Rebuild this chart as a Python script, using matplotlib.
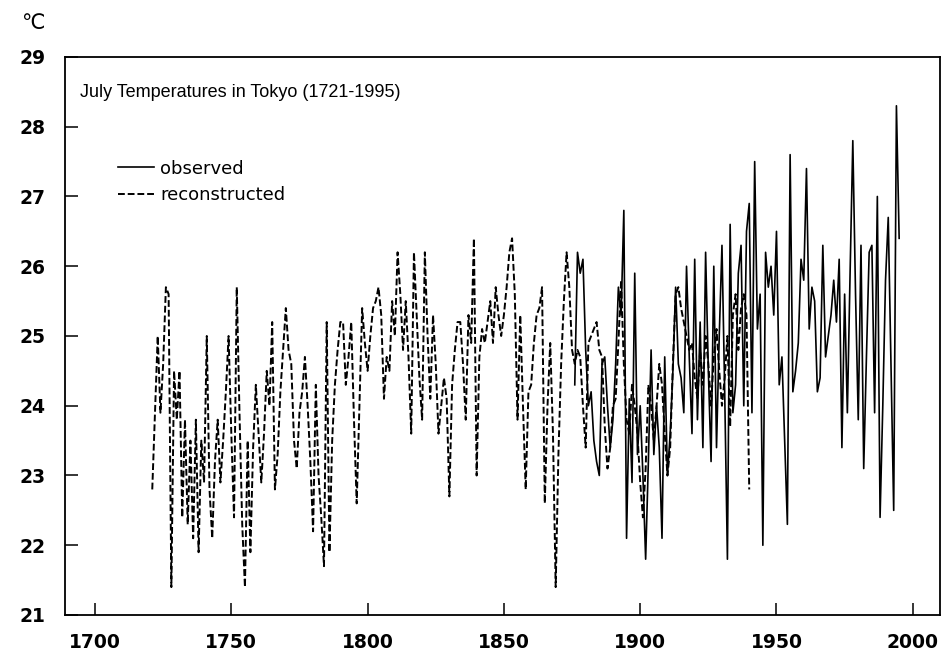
import numpy as np
import matplotlib.pyplot as plt

# reconstructed July means, 1721-1940
recon_start = 1721
recon_temp = [
    22.8, 23.9, 25.0, 23.9, 24.6, 25.7, 25.6, 21.4, 24.5, 23.8,   # 1721-1730
    24.5, 22.4, 23.8, 22.3, 23.5, 22.1, 23.8, 21.9, 23.5, 22.9,   # 1731-1740
    25.0, 22.8, 22.1, 23.2, 23.8, 22.9, 23.5, 24.2, 25.0, 23.6,   # 1741-1750
    22.4, 25.7, 23.9, 22.3, 21.4, 23.5, 21.9, 23.4, 24.3, 23.6,   # 1751-1760
    22.9, 23.6, 24.5, 24.0, 25.2, 22.8, 23.3, 24.2, 24.8, 25.4,   # 1761-1770
    24.8, 24.6, 23.5, 23.1, 23.9, 24.2, 24.7, 24.0, 23.2, 22.2,   # 1771-1780
    24.3, 23.0, 22.4, 21.7, 25.2, 21.9, 23.5, 24.3, 24.8, 25.2,   # 1781-1790
    25.2, 24.3, 24.7, 25.2, 23.8, 22.6, 24.0, 25.4, 24.9, 24.5,   # 1791-1800
    25.0, 25.4, 25.5, 25.7, 25.3, 24.1, 24.7, 24.5, 25.5, 25.0,   # 1801-1810
    26.2, 25.6, 24.8, 25.5, 24.7, 23.6, 26.2, 25.3, 24.4, 23.8,   # 1811-1820
    26.2, 25.0, 24.1, 25.3, 24.6, 23.6, 24.0, 24.4, 24.1, 22.7,   # 1821-1830
    24.3, 24.8, 25.2, 25.2, 24.6, 23.8, 25.3, 24.9, 26.4, 23.0,   # 1831-1840
    24.7, 25.1, 24.9, 25.2, 25.5, 24.9, 25.7, 25.3, 25.0, 25.3,   # 1841-1850
    25.7, 26.2, 26.4, 25.6, 23.8, 25.3, 24.0, 22.8, 24.2, 24.3,   # 1851-1860
    24.9, 25.3, 25.4, 25.7, 22.6, 24.0, 24.9, 23.6, 21.4, 23.3,   # 1861-1870
    24.6, 25.5, 26.2, 25.7, 24.8, 24.6, 24.8, 24.7, 24.0, 23.4,   # 1871-1880
    24.9, 25.0, 25.1, 25.2, 24.8, 24.7, 23.7, 23.1, 23.4, 24.0,   # 1881-1890
    24.1, 24.9, 25.8, 24.6, 23.8, 23.6, 24.3, 24.0, 23.6, 22.9,   # 1891-1900
    22.4, 23.1, 24.3, 24.0, 23.5, 24.0, 24.6, 24.3, 23.6, 23.0,   # 1901-1910
    23.4, 24.6, 25.6, 25.7, 25.4, 25.2, 25.0, 24.8, 24.9, 24.4,   # 1911-1920
    24.1, 24.8, 24.3, 25.0, 24.6, 24.0, 24.7, 25.1, 24.5, 24.0,   # 1921-1930
    24.4, 25.0, 23.7, 25.3, 25.6, 24.8, 25.4, 25.6, 25.3, 22.8,   # 1931-1940
]

# observed July means, 1876-1995
obs_start = 1876
obs_temp = [
    24.3, 26.2, 25.9, 26.1, 24.8, 24.0, 24.2, 23.5, 23.2, 23.0,   # 1876-1885
    24.6, 24.7, 24.0, 23.4, 23.8, 24.6, 25.7, 25.3, 26.8, 22.1,   # 1886-1895
    24.1, 22.9, 25.9, 23.3, 24.0, 23.0, 21.8, 23.2, 24.8, 23.3,   # 1896-1905
    24.0, 23.4, 22.1, 24.7, 23.0, 23.6, 24.5, 25.7, 24.6, 24.4,   # 1906-1915
    23.9, 26.0, 24.7, 23.6, 26.1, 23.8, 25.2, 23.4, 26.2, 24.5,   # 1916-1925
    23.2, 26.0, 23.4, 25.0, 26.3, 24.2, 21.8, 26.6, 23.9, 24.3,   # 1926-1935
    25.9, 26.3, 24.0, 26.5, 26.9, 23.9, 27.5, 25.1, 25.6, 22.0,   # 1936-1945
    26.2, 25.7, 26.0, 25.3, 26.5, 24.3, 24.7, 23.5, 22.3, 27.6,   # 1946-1955
    24.2, 24.5, 24.9, 26.1, 25.8, 27.4, 25.1, 25.7, 25.5, 24.2,   # 1956-1965
    24.4, 26.3, 24.7, 25.0, 25.3, 25.8, 25.2, 26.1, 23.4, 25.6,   # 1966-1975
    23.9, 25.9, 27.8, 25.6, 23.8, 26.3, 23.1, 24.7, 26.2, 26.3,   # 1976-1985
    23.9, 27.0, 22.4, 24.0, 25.8, 26.7, 24.6, 22.5, 28.3, 26.4,   # 1986-1995
]

recon_years = np.arange(recon_start, recon_start + len(recon_temp))
obs_years = np.arange(obs_start, obs_start + len(obs_temp))

x_ticks = [1700, 1750, 1800, 1850, 1900, 1950, 2000]
y_ticks = [21, 22, 23, 24, 25, 26, 27, 28, 29]

plt.rcParams['font.family'] = ['Liberation Sans', 'DejaVu Sans']

fig = plt.figure(figsize=(9.48, 6.65), dpi=100)
ax = fig.add_axes([0.0686, 0.0752, 0.9230, 0.8391])

ax.plot(obs_years, obs_temp, color='black', lw=1.2, label='observed')
ax.plot(recon_years, recon_temp, color='black', lw=1.4,
        linestyle=(0, (3.5, 1.5)), label='reconstructed')

ax.set_xlim(1689, 2010)
ax.set_ylim(21, 29)
ax.set_xticks(x_ticks)
ax.set_yticks(y_ticks)
ax.tick_params(direction='in', length=9, width=1.1, top=False, right=False)
ax.tick_params(axis='x', pad=13)
ax.tick_params(axis='y', pad=14)
for lab in ax.get_xticklabels() + ax.get_yticklabels():
    lab.set_fontweight('bold')
    lab.set_fontfamily('DejaVu Sans')
    lab.set_fontsize(13.5)
for s in ax.spines.values():
    s.set_linewidth(1.3)

ax.text(0.017, 0.937, 'July Temperatures in Tokyo (1721-1995)',
        transform=ax.transAxes, fontsize=13, va='center', ha='left')

# legend, upper left below the title
leg = ax.legend(loc='upper left', bbox_to_anchor=(0.05, 0.832),
                frameon=False, handlelength=2.0, handletextpad=0.35,
                labelspacing=0.45, borderpad=0,
                prop={'family': 'DejaVu Sans', 'size': 13})

fig.text(0.022, 0.965, '\u2103', fontsize=15, family='DejaVu Sans',
         va='center', ha='left')

fig.savefig('out.png', dpi=100)
